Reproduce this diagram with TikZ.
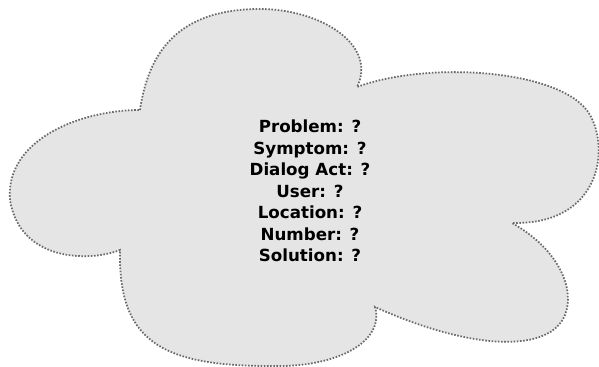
\documentclass[tikz,border=0pt]{standalone}
\usepackage{fontspec}
\setmainfont{DejaVu Sans}
\usepackage{xcolor}
\usepackage{tikz}
\usetikzlibrary{positioning, calc}
\definecolor{cloudfill}{RGB}{229, 229, 229}
\definecolor{cloudline}{RGB}{105, 105, 105}

\begin{document}
\begin{tikzpicture}[
    x=0.02cm, y=-0.02cm,
    cloud/.style={fill=cloudfill, draw=cloudline, line width=1pt, dash pattern=on 0.9pt off 0.9pt},
    slots/.style={align=center, font=\fontsize{9.5}{12.2}\selectfont\bfseries, inner sep=0pt}
]
    \useasboundingbox (0,0) rectangle (599,367);

    % cusps between the lobes
    \coordinate (topleft) at (140,110);
    \coordinate (topright) at (357,87);
    \coordinate (right) at (512,223);
    \coordinate (bottomright) at (375,307);
    \coordinate (bottomleft) at (120,250);

    \path[cloud] (topleft)
        .. controls (150,40) and (190,10) .. (257,9)
        .. controls (320,8) and (378,45) .. (topright)
        .. controls (430,60) and (565,70) .. (590,115)
        .. controls (610,150) and (600,225) .. (right)
        .. controls (560,250) and (575,290) .. (565,315)
        .. controls (550,352) and (475,352) .. (bottomright)
        .. controls (385,340) and (340,368) .. (270,366)
        .. controls (160,366) and (118,340) .. (bottomleft)
        .. controls (90,262) and (20,262) .. (10,200)
        .. controls (5,140) and (80,110) .. (topleft) -- cycle;

    \node[slots] (state) at (310,191) {Problem: ?\\Symptom: ?\\Dialog Act: ?\\User: ?\\Location: ?\\Number: ?\\Solution: ?};
\end{tikzpicture}
\end{document}
